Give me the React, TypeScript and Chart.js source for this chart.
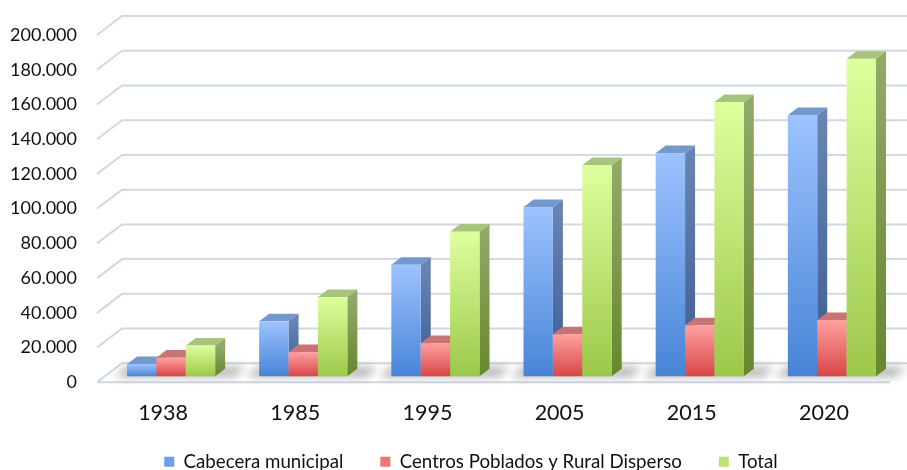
import React, { useEffect, useRef } from "react";
import { Chart, registerables } from "chart.js";

Chart.register(...registerables);

// ---------- data ----------
const categories = ["1938", "1985", "1995", "2005", "2015", "2020"];
const seriesNames = ["Cabecera municipal", "Centros Poblados y Rural Disperso", "Total"];
const cabeceraMunicipal = [7000, 31700, 64200, 97400, 128500, 150400];
const centrosPoblados = [10700, 13900, 19100, 24200, 29400, 32400];
const totalPoblacion = [17700, 45600, 83300, 121600, 157900, 182800];
const yTickMin = 0;
const yTickMax = 200000;
const yTickStep = 20000;

// ---------- styles ----------
const FONT = "Lato";
const TEXT = "#111111";
const GRID = "#D0D8E5";
const STYLES = [
  { front: ["#9DC3FF", "#4784D6"], side: ["#6884B2", "#3B5D94"], top: "#7398CC", legend: "#6C9FEA" },
  { front: ["#FFA0A0", "#D84646"], side: ["#B86262", "#8C3030"], top: "#C87474", legend: "#F07676" },
  { front: ["#DEFF9E", "#9CC84A"], side: ["#90AA68", "#66872E"], top: "#A8C37C", legend: "#BEE274" },
];
const BAR_DX = 10;
const BAR_DY = 7.6;
const FRONT_DX = -8;
const FRONT_DY = 6;
const BACK_DX = 17;
const BACK_DY = -13;

const fmt = (v: number) => String(v).replace(/\B(?=(\d{3})+(?!\d))/g, ".");

const threeDPlugin = {
  id: "threeD",
  afterLayout(chart: any) {
    const lg = chart.legend;
    if (lg) {
      lg.left += 22;
      lg.right += 22;
      lg.top += 11;
      lg.bottom += 11;
    }
    const xs = chart.scales.x;
    if (xs) xs.bottom = chart.height;
  },
  beforeDatasetsDraw(chart: any) {
    const { ctx, chartArea, scales } = chart;
    const y = scales.y;
    ctx.save();
    ctx.strokeStyle = GRID;
    ctx.lineWidth = 2;
    y.ticks.forEach((t: any) => {
      const py = y.getPixelForValue(t.value);
      ctx.beginPath();
      ctx.moveTo(chartArea.left + FRONT_DX, py + FRONT_DY);
      ctx.lineTo(chartArea.left + BACK_DX, py + BACK_DY);
      ctx.lineTo(chartArea.right + BACK_DX + 20, py + BACK_DY);
      ctx.stroke();
    });
    const p0 = y.getPixelForValue(0);
    ctx.beginPath();
    ctx.moveTo(chartArea.left + FRONT_DX, p0 + FRONT_DY);
    ctx.lineTo(chartArea.right + FRONT_DX, p0 + FRONT_DY);
    ctx.stroke();

    // soft floor shadows under each group
    const nDs = chart.data.datasets.length;
    const n = chart.data.labels.length;
    for (let i = 0; i < n; i++) {
      const first = chart.getDatasetMeta(0).data[i].getProps(["x", "base", "width"], true);
      const last = chart.getDatasetMeta(nDs - 1).data[i].getProps(["x", "base", "width"], true);
      const x0 = first.x - first.width / 2;
      const x1 = last.x + last.width / 2;
      const b = first.base;
      ctx.save();
      ctx.filter = "blur(4px)";
      ctx.fillStyle = "rgba(70,70,70,0.38)";
      ctx.beginPath();
      ctx.moveTo(x0 - 12, b + 1);
      ctx.lineTo(x1 + BAR_DX + 10, b + 1);
      ctx.lineTo(x1 + BAR_DX + 20, b - BAR_DY - 2);
      ctx.lineTo(x0 - 2, b - BAR_DY - 2);
      ctx.closePath();
      ctx.fill();
      ctx.restore();
    }
    ctx.restore();
  },
  afterDatasetsDraw(chart: any) {
    const { ctx } = chart;
    const nDs = chart.data.datasets.length;
    const n = chart.data.labels.length;
    ctx.save();
    for (let i = 0; i < n; i++) {
      for (let d = 0; d < nDs; d++) {
        const el = chart.getDatasetMeta(d).data[i];
        const { x, y, base, width } = el.getProps(["x", "y", "base", "width"], true);
        const st = STYLES[d];
        const l = x - width / 2;
        const r = x + width / 2;
        const gs = ctx.createLinearGradient(0, y, 0, base);
        gs.addColorStop(0, st.side[0]);
        gs.addColorStop(1, st.side[1]);
        ctx.fillStyle = gs;
        ctx.beginPath();
        ctx.moveTo(r, y);
        ctx.lineTo(r + BAR_DX, y - BAR_DY);
        ctx.lineTo(r + BAR_DX, base - BAR_DY);
        ctx.lineTo(r, base);
        ctx.closePath();
        ctx.fill();
        ctx.fillStyle = st.top;
        ctx.beginPath();
        ctx.moveTo(l, y);
        ctx.lineTo(r, y);
        ctx.lineTo(r + BAR_DX, y - BAR_DY);
        ctx.lineTo(l + BAR_DX, y - BAR_DY);
        ctx.closePath();
        ctx.fill();
        const gf = ctx.createLinearGradient(0, y, 0, base);
        gf.addColorStop(0, st.front[0]);
        gf.addColorStop(1, st.front[1]);
        ctx.fillStyle = gf;
        ctx.fillRect(l, y, width, base - y);
      }
    }
    ctx.restore();
  },
};

export default function App() {
  const ref = useRef<HTMLCanvasElement | null>(null);
  useEffect(() => {
    if (!ref.current) return;
    const series = [cabeceraMunicipal, centrosPoblados, totalPoblacion];
    const chart = new Chart(ref.current, {
      type: "bar",
      data: {
        labels: categories,
        datasets: series.map((s, k) => ({
          label: seriesNames[k],
          data: s,
          backgroundColor: "rgba(0,0,0,0)",
          borderWidth: 0,
          categoryPercentage: 0.667,
          barPercentage: 1,
        })),
      },
      options: {
        animation: false,
        responsive: false,
        devicePixelRatio: 1,
        layout: { padding: { top: 29, right: 9, left: 0, bottom: 0 } },
        plugins: {
          tooltip: { enabled: false },
          legend: {
            position: "bottom",
            labels: {
              boxWidth: 10,
              boxHeight: 10,
              padding: 37,
              color: TEXT,
              font: { family: FONT, size: 18.7 },
              generateLabels: (c: any) =>
                c.data.datasets.map((ds: any, k: number) => ({
                  text: ds.label,
                  fillStyle: STYLES[k].legend,
                  strokeStyle: STYLES[k].legend,
                  lineWidth: 0,
                  hidden: false,
                  datasetIndex: k,
                  fontColor: TEXT,
                })),
            },
          },
        },
        scales: {
          x: {
            grid: { display: false, drawTicks: false },
            border: { display: false },
            ticks: {
              color: TEXT,
              font: { family: FONT, size: 21.5 },
              padding: 24,
              labelOffset: -8,
              maxRotation: 0,
            },
            afterFit: (s: any) => {
              s.height = 28;
              s.paddingLeft = 0;
              s.paddingRight = 0;
            },
          },
          y: {
            min: yTickMin,
            max: yTickMax,
            grid: { display: false, drawTicks: false },
            border: { display: false },
            ticks: {
              stepSize: yTickStep,
              color: TEXT,
              font: { family: FONT, size: 18 },
              padding: 28,
              labelOffset: 6,
              callback: (v: any) => fmt(Number(v)),
            },
            afterFit: (s: any) => {
              s.width = 105;
              s.paddingTop = 0;
              s.paddingBottom = 0;
            },
          },
        },
      },
      plugins: [threeDPlugin],
    });
    return () => chart.destroy();
  }, []);
  return (
    <div style={{ position: "absolute", left: 0, top: 0, width: 907, height: 470, background: "#fff" }}>
      <canvas ref={ref} width={907} height={470} />
    </div>
  );
}
